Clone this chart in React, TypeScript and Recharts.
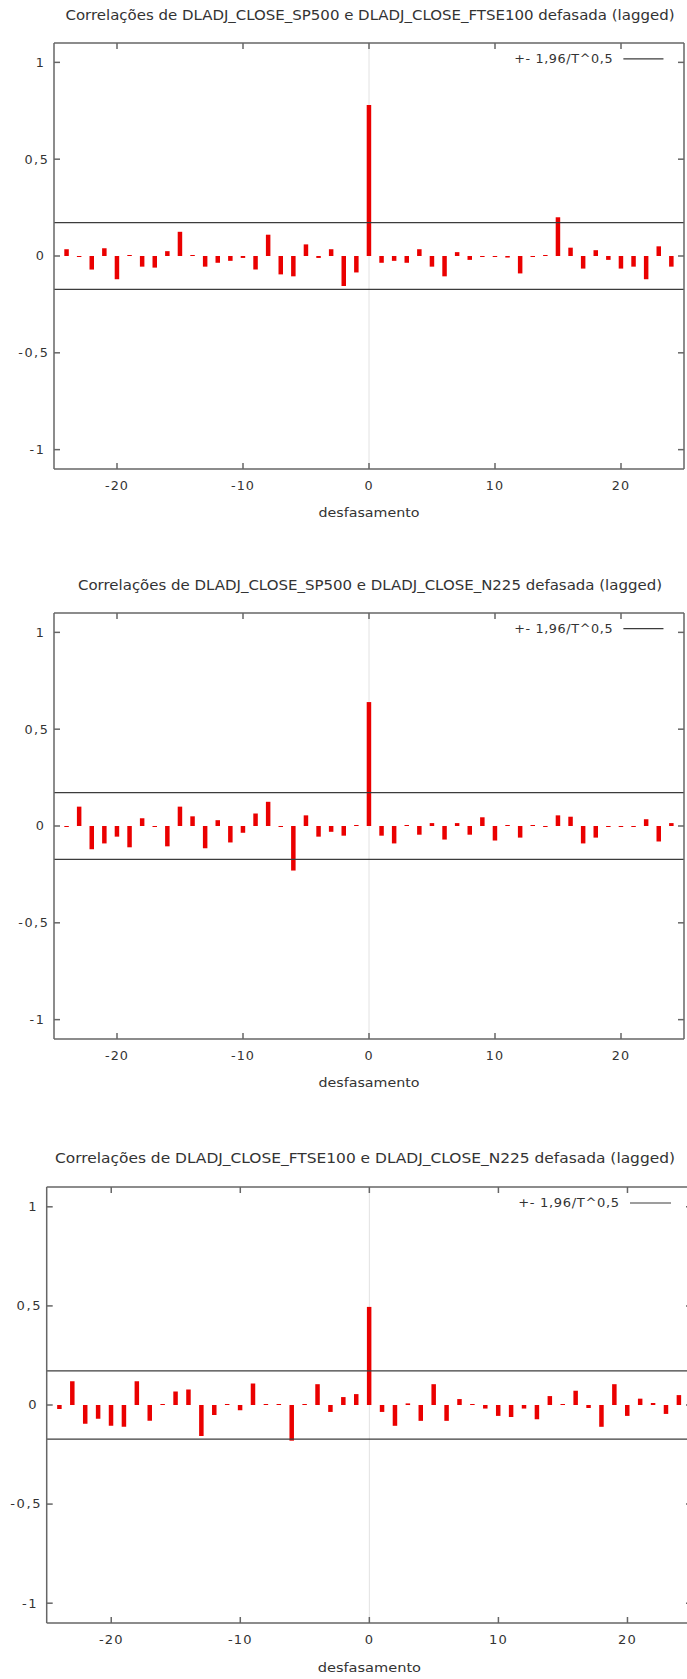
import React from "react";
import { BarChart, Bar, XAxis, YAxis, ReferenceLine, CartesianGrid } from "recharts";

// lags (defasamento)
const lags = [
  -24, -23, -22, -21, -20, -19, -18, -17, -16, -15, -14, -13, -12, -11, -10,
  -9, -8, -7, -6, -5, -4, -3, -2, -1, 0, 1, 2, 3, 4, 5, 6, 7, 8, 9, 10, 11,
  12, 13, 14, 15, 16, 17, 18, 19, 20, 21, 22, 23, 24,
];

// cross-correlations, lag -24 .. 24
const sp500Ftse100 = [
  0.035, -0.005, -0.07, 0.04, -0.12, 0.005, -0.055, -0.06, 0.025, 0.125,
  0.003, -0.055, -0.035, -0.025, -0.01, -0.07, 0.11, -0.095, -0.105, 0.06,
  -0.01, 0.035, -0.155, -0.085, 0.78, -0.035, -0.025, -0.035, 0.035, -0.055,
  -0.105, 0.02, -0.02, -0.005, -0.005, -0.008, -0.09, -0.005, 0.003, 0.2,
  0.043, -0.065, 0.03, -0.02, -0.065, -0.055, -0.12, 0.05, -0.055,
];

const sp500N225 = [
  -0.003, 0.1, -0.12, -0.09, -0.055, -0.11, 0.04, -0.002, -0.105, 0.1, 0.05,
  -0.115, 0.03, -0.085, -0.035, 0.065, 0.125, -0.005, -0.23, 0.055, -0.055,
  -0.03, -0.05, 0.005, 0.64, -0.05, -0.09, 0.005, -0.045, 0.015, -0.07, 0.015,
  -0.045, 0.045, -0.075, 0.002, -0.06, 0.0, -0.003, 0.055, 0.048, -0.09,
  -0.06, -0.005, -0.005, -0.005, 0.035, -0.08, 0.015,
];

const ftse100N225 = [
  -0.02, 0.12, -0.095, -0.07, -0.105, -0.11, 0.12, -0.08, 0.003, 0.068,
  0.078, -0.157, -0.05, 0.0, -0.027, 0.108, 0.003, 0.0, -0.18, 0.003, 0.105,
  -0.035, 0.04, 0.055, 0.495, -0.035, -0.105, 0.008, -0.08, 0.105, -0.08,
  0.03, 0.0, -0.018, -0.055, -0.06, -0.018, -0.072, 0.045, 0.0, 0.072,
  -0.015, -0.11, 0.105, -0.055, 0.032, 0.01, -0.045, 0.05,
];

const titles = [
  "Correlações de DLADJ_CLOSE_SP500 e DLADJ_CLOSE_FTSE100 defasada (lagged)",
  "Correlações de DLADJ_CLOSE_SP500 e DLADJ_CLOSE_N225 defasada (lagged)",
  "Correlações de DLADJ_CLOSE_FTSE100 e DLADJ_CLOSE_N225 defasada (lagged)",
];

const xTicks = [-20, -10, 0, 10, 20];
const yTicks = [-1, -0.5, 0, 0.5, 1];
const zeroLag = [0];
const confBand = 0.172; // 1,96/T^0,5
const legendText = "+- 1,96/T^0,5";
const xLabel = "desfasamento";

const FRAME = "#666";
const TEXT = "#333";
const FONT = "'DejaVu Sans', Verdana, sans-serif";

// frame of each plot in page pixels, plus title placement
const layouts = [
  { x0: 54, x1: 684, y0: 43, y1: 469, s: 0.978, titleX: 370, titleW: 609 },
  { x0: 54, x1: 684, y0: 612.7, y1: 1038.7, s: 0.978, titleX: 370, titleW: 584 },
  { x0: 46.7, x1: 692, y0: 1186.7, y1: 1622.7, s: 1, titleX: 365, titleW: 620 },
];

const fmt = (v: number) => String(v).replace(".", ",");

const XTick = (props: any) => {
  const { x, y, payload, sx } = props;
  return (
    <g transform={`translate(${x},${y}) scale(${sx},1)`}>
      <text x={0} y={0} dy="0.36em" textAnchor="middle" fontSize={12} fill={TEXT} letterSpacing={1}>
        {fmt(payload.value)}
      </text>
    </g>
  );
};

const YTick = (props: any) => {
  const { x, y, payload, sx } = props;
  // gnuplot leaves the decimal labels sticking out a little to the right
  const shift = Number.isInteger(payload.value) ? 0 : 4;
  return (
    <g transform={`translate(${x + shift},${y}) scale(${sx},1)`}>
      <text x={0} y={0} dy="0.36em" textAnchor="end" fontSize={12} fill={TEXT} letterSpacing={1.5}>
        {fmt(payload.value)}
      </text>
    </g>
  );
};

const NoTick = () => <g />;

function Panel({ values, idx }: { values: number[]; idx: number }) {
  const L = layouts[idx];
  const sx = 1.089 * L.s;
  const data = lags.map((lag, i) => ({ lag, r: values[i] }));
  const plotH = L.y1 - L.y0;
  return (
    <div style={{ position: "absolute", left: 0, top: L.y0 - 10 }}>
      <BarChart
        width={L.x1 + 20}
        height={plotH + 70}
        data={data}
        margin={{ top: 9, right: 19, bottom: 0, left: 0 }}
      >
        <CartesianGrid
          xAxisId="b"
          yAxisId="l"
          horizontal={false}
          verticalValues={zeroLag}
          stroke="#e2e2e2"
        />
        <XAxis
          xAxisId="b"
          type="number"
          dataKey="lag"
          domain={[-25, 25]}
          ticks={xTicks}
          height={60}
          stroke={FRAME}
          strokeWidth={1.5}
          tickSize={-6}
          tickMargin={6 + 17 * L.s}
          tick={(p: any) => <XTick {...p} sx={sx} />}
          allowDataOverflow
        />
        <XAxis
          xAxisId="t"
          orientation="top"
          type="number"
          dataKey="lag"
          domain={[-25, 25]}
          ticks={xTicks}
          height={1}
          stroke={FRAME}
          strokeWidth={1.5}
          tickSize={-6}
          tick={NoTick}
          allowDataOverflow
        />
        <YAxis
          yAxisId="l"
          type="number"
          domain={[-1.1, 1.1]}
          ticks={yTicks}
          width={L.x0}
          stroke={FRAME}
          strokeWidth={1.5}
          tickSize={-6}
          tickMargin={6 + 8.5}
          tick={(p: any) => <YTick {...p} sx={sx} />}
          allowDataOverflow
        />
        <YAxis
          yAxisId="r"
          orientation="right"
          type="number"
          domain={[-1.1, 1.1]}
          ticks={yTicks}
          width={1}
          stroke={FRAME}
          strokeWidth={1.5}
          tickSize={-6}
          tick={NoTick}
          allowDataOverflow
        />
        <ReferenceLine xAxisId="b" yAxisId="l" y={confBand} stroke="#3c3c3c" strokeWidth={1.2} />
        <ReferenceLine xAxisId="b" yAxisId="l" y={-confBand} stroke="#3c3c3c" strokeWidth={1.2} />
        <Bar
          xAxisId="b"
          yAxisId="l"
          dataKey="r"
          fill="#ea0000"
          barSize={4.5}
          minPointSize={1}
          isAnimationActive={false}
        />
      </BarChart>
    </div>
  );
}

export default function App() {
  const series = [sp500Ftse100, sp500N225, ftse100N225];
  return (
    <div
      style={{
        position: "absolute",
        left: 0,
        top: 0,
        width: 687,
        height: 1679,
        overflow: "hidden",
        background: "#fff",
        fontFamily: FONT,
      }}
    >
      {series.map((v, i) => (
        <Panel key={i} values={v} idx={i} />
      ))}
      <svg
        width={687}
        height={1679}
        style={{ position: "absolute", left: 0, top: 0, pointerEvents: "none" }}
        fontFamily={FONT}
      >
        {layouts.map((L, i) => {
          const sx = 1.089 * L.s;
          const mid = (L.x0 + L.x1) / 2;
          const legY = L.y0 + 16.3 * L.s;
          const txtRight = L.x1 - 72.3 * L.s;
          const lnA = L.x1 - 62 * L.s;
          const lnB = L.x1 - 21 * L.s;
          return (
            <g key={i}>
              <text
                x={L.titleX}
                y={L.y0 - 28.5 * L.s}
                textAnchor="middle"
                dy="0.36em"
                fontSize={14}
                fill={TEXT}
                textLength={L.titleW}
                lengthAdjust="spacingAndGlyphs"
              >
                {titles[i]}
              </text>
              <g transform={`translate(${mid},${L.y1 + 44.3 * L.s}) scale(${sx * 1.03},1)`}>
                <text textAnchor="middle" dy="0.36em" fontSize={13} fill={TEXT}>
                  {xLabel}
                </text>
              </g>
              <g transform={`translate(${txtRight},${legY}) scale(${sx},1)`}>
                <text textAnchor="end" dy="0.36em" fontSize={12} fill={TEXT} letterSpacing={0.6}>
                  {legendText}
                </text>
              </g>
              <line x1={lnA} x2={lnB} y1={legY} y2={legY} stroke="#3c3c3c" strokeWidth={1.2} />
            </g>
          );
        })}
      </svg>
    </div>
  );
}
